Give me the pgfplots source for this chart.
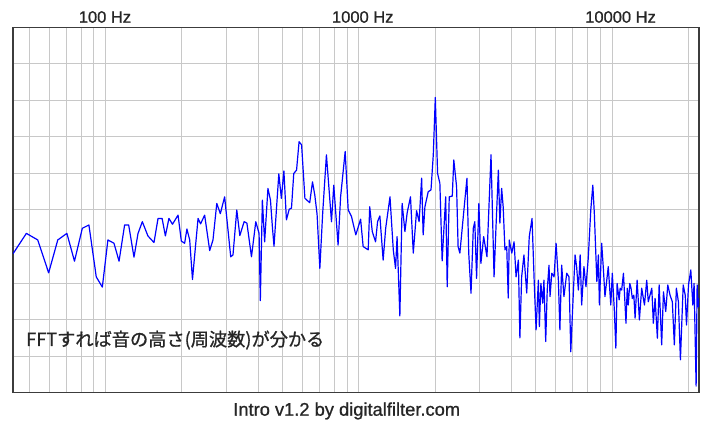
\documentclass[border=0pt]{standalone}
\usepackage{pgfplots}
\usepackage{pgfplotstable}
\pgfplotsset{compat=1.18}
\usepackage{fontspec}
\setmainfont{Liberation Sans}
\newfontfamily\labelfont{Liberation Sans}[FakeBold=0.9]
\newfontfamily\jpfont{Noto Sans CJK JP}[FakeBold=0.9]
\definecolor{gridgray}{RGB}{200,200,200}
\definecolor{framegray}{RGB}{60,60,60}

% lf = log10(frequency / Hz), db = level
\pgfplotstableread{
lf db
1.634 -62.0
1.687 -56.4
1.732 -58.2
1.775 -67.2
1.811 -58.2
1.847 -56.4
1.877 -64.0
1.908 -55.0
1.934 -54.1
1.963 -68.3
1.987 -71.1
2.009 -58.2
2.033 -59.1
2.053 -64.0
2.075 -54.1
2.091 -54.1
2.112 -62.9
2.128 -56.4
2.145 -53.2
2.167 -57.1
2.191 -58.9
2.207 -52.3
2.223 -52.3
2.236 -57.1
2.250 -52.3
2.264 -53.9
2.286 -51.4
2.299 -58.5
2.312 -59.1
2.321 -55.2
2.332 -58.2
2.343 -69.0
2.365 -52.3
2.375 -53.8
2.391 -51.4
2.411 -61.1
2.424 -58.2
2.439 -48.2
2.453 -51.0
2.470 -46.4
2.494 -62.8
2.503 -62.3
2.518 -50.0
2.530 -57.0
2.547 -53.2
2.558 -53.6
2.576 -62.8
2.593 -53.2
2.606 -56.4
2.611 -74.8
2.619 -47.3
2.628 -58.7
2.641 -44.1
2.651 -47.3
2.659 -55.0
2.665 -59.9
2.677 -47.3
2.684 -40.1
2.694 -46.8
2.704 -39.3
2.714 -52.7
2.725 -49.8
2.734 -49.5
2.743 -40.0
2.754 -39.1
2.764 -31.3
2.774 -32.2
2.787 -46.8
2.806 -48.0
2.817 -42.3
2.826 -45.9
2.835 -51.1
2.846 -66.0
2.857 -51.1
2.872 -34.9
2.892 -53.2
2.901 -43.2
2.918 -59.6
2.928 -46.4
2.946 -34.0
2.958 -50.0
2.971 -51.8
2.988 -56.8
3.007 -52.5
3.017 -60.0
3.037 -60.9
3.043 -49.1
3.053 -55.9
3.066 -58.7
3.074 -53.2
3.083 -51.6
3.096 -63.7
3.106 -55.0
3.123 -46.4
3.136 -60.9
3.145 -66.0
3.151 -57.3
3.162 -79.0
3.171 -48.2
3.182 -55.9
3.191 -50.7
3.204 -46.4
3.215 -61.8
3.228 -50.2
3.238 -53.2
3.248 -41.3
3.254 -56.8
3.261 -49.1
3.274 -45.0
3.285 -44.5
3.294 -34.9
3.302 -19.2
3.311 -40.0
3.320 -42.7
3.329 -63.9
3.343 -46.4
3.349 -71.0
3.357 -46.4
3.369 -46.2
3.375 -36.3
3.386 -43.6
3.392 -60.0
3.399 -61.8
3.415 -50.0
3.427 -41.3
3.434 -61.8
3.443 -72.8
3.452 -55.0
3.458 -53.2
3.465 -68.7
3.474 -48.2
3.482 -64.6
3.493 -57.3
3.506 -62.8
3.522 -34.9
3.534 -68.3
3.542 -54.1
3.551 -39.1
3.557 -53.6
3.564 -44.1
3.570 -49.1
3.577 -60.9
3.584 -60.0
3.590 -74.1
3.594 -58.2
3.604 -61.8
3.613 -58.7
3.621 -68.3
3.630 -63.7
3.636 -85.0
3.643 -68.3
3.652 -62.3
3.663 -72.7
3.673 -57.3
3.684 -52.3
3.693 -70.5
3.700 -82.8
3.709 -69.2
3.713 -81.9
3.719 -70.1
3.726 -75.5
3.731 -69.2
3.738 -86.0
3.744 -71.9
3.751 -65.1
3.755 -73.7
3.762 -67.3
3.771 -68.3
3.779 -59.1
3.788 -69.2
3.794 -82.8
3.801 -65.1
3.810 -73.7
3.821 -67.3
3.830 -68.3
3.837 -88.8
3.847 -72.8
3.854 -62.3
3.860 -65.5
3.867 -71.9
3.874 -62.3
3.880 -76.0
3.889 -65.5
3.897 -71.0
3.906 -63.2
3.916 -50.0
3.924 -43.2
3.930 -50.9
3.940 -69.6
3.946 -62.3
3.950 -76.0
3.959 -59.1
3.966 -66.4
3.972 -73.7
3.985 -65.5
3.995 -76.0
4.001 -67.3
4.009 -77.4
4.015 -87.8
4.020 -70.1
4.028 -74.6
4.032 -71.4
4.038 -71.9
4.045 -67.3
4.049 -72.8
4.055 -81.0
4.060 -71.4
4.064 -76.0
4.070 -70.1
4.075 -71.4
4.080 -74.2
4.086 -73.3
4.091 -79.6
4.099 -69.2
4.108 -80.1
4.117 -71.4
4.128 -76.0
4.137 -69.2
4.143 -75.1
4.157 -71.4
4.163 -81.0
4.170 -74.2
4.179 -85.1
4.186 -70.5
4.196 -86.9
4.203 -72.4
4.212 -77.8
4.220 -70.5
4.229 -73.3
4.238 -75.1
4.246 -86.9
4.254 -71.4
4.262 -75.1
4.270 -91.0
4.281 -70.5
4.289 -73.3
4.294 -81.5
4.302 -70.5
4.311 -66.4
4.319 -76.0
4.324 -70.1
4.332 -98.2
4.336 -70.5
4.341 -76.5
4.3434 -74.1
}\spectrum

\begin{document}
\begin{tikzpicture}
\path[use as bounding box, fill=white] (-13bp,-31.3bp) rectangle (708bp,392.7bp);
\begin{axis}[
  name=ax, at={(0,0)}, anchor=south west,
  scale only axis, width=686bp, height=365.4bp,
  xmin=1.6342, xmax=4.3434, ymin=-100, ymax=0,
  xtick={2,3,4}, xticklabels={100 Hz,1000 Hz,10000 Hz},
  minor xtick={1.699,1.778,1.845,1.903,1.954,2.301,2.477,2.602,2.699,2.778,2.845,2.903,2.954,3.301,3.477,3.602,3.699,3.778,3.845,3.903,3.954,4.301},
  ytick={-90,-80,...,-10}, yticklabels={},
  xticklabel pos=upper,
  xticklabel style={anchor=base west, inner sep=0pt, xshift=-27bp, yshift=4.6bp,
    font=\labelfont\fontsize{16.5bp}{18bp}\selectfont, text=black!85},
  grid=both,
  major grid style={draw=gridgray, line width=1bp},
  minor grid style={draw=gridgray, line width=1bp},
  major tick length=0pt, minor tick length=0pt,
  axis line style={draw=framegray, line width=1.2bp},
]
\addplot[blue, line width=1.2bp, line join=round] table[x=lf, y=db] {\spectrum};
\node[anchor=west, inner sep=0pt, text=black!85, font=\jpfont\fontsize{18.2bp}{20bp}\selectfont]
  at (axis cs:1.6856,-85.6) {FFTすれば音の高さ(周波数)が分かる};
\end{axis}
\node[anchor=base, inner sep=0pt, text=black!85, font=\labelfont\fontsize{18.3bp}{20bp}\selectfont]
  at (333.7bp,-23bp) {Intro v1.2 by digitalfilter.com};
\end{tikzpicture}
\end{document}
